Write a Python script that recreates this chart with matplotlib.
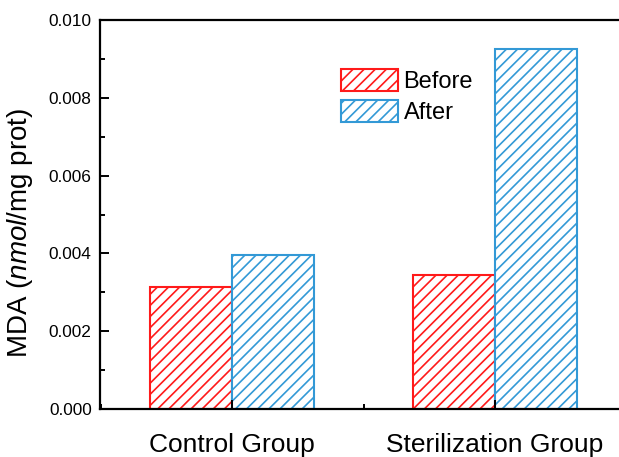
import matplotlib
matplotlib.use('Agg')
import matplotlib.pyplot as plt
from matplotlib.patches import Patch
from matplotlib.ticker import MultipleLocator, FormatStrFormatter

groups = ['Control Group', 'Sterilization Group']
before = [0.00314, 0.00345]
after = [0.00397, 0.00925]

C_BEFORE, C_AFTER = '#FF1A1A', '#3399D6'

plt.rcParams.update({
    'font.family': 'Liberation Sans',
    'mathtext.fontset': 'custom',
    'mathtext.rm': 'Liberation Sans',
    'mathtext.it': 'Liberation Sans:italic',
    'hatch.linewidth': 1.2,
})

fig = plt.figure(figsize=(6.19, 4.57), dpi=100)
ax = fig.add_axes([100 / 619, 48 / 457, 519 / 619, 389 / 457])

xs = [1, 2]
w = 0.312
ax.bar([x - w / 2 for x in xs], before, width=w, facecolor='white',
       edgecolor=C_BEFORE, hatch='///', linewidth=1.5)
ax.bar([x + w / 2 for x in xs], after, width=w, facecolor='white',
       edgecolor=C_AFTER, hatch='///', linewidth=1.5)

ax.set_xlim(0.498, 2.471)
ax.set_ylim(0, 0.010)
ax.set_xticks(xs)
ax.set_xticklabels(groups, fontsize=19)
ax.xaxis.set_minor_locator(MultipleLocator(0.5))
ax.yaxis.set_major_locator(MultipleLocator(0.002))
ax.yaxis.set_minor_locator(MultipleLocator(0.001))
ax.yaxis.set_major_formatter(FormatStrFormatter('%.3f'))
ax.tick_params(axis='y', labelsize=12.4, pad=6)
ax.tick_params(axis='x', pad=17)
ax.tick_params(which='major', direction='in', length=6.5, width=1.4)
ax.tick_params(which='minor', direction='in', length=3.6, width=1.4)
ax.spines['right'].set_visible(False)
for s in ('left', 'top', 'bottom'):
    ax.spines[s].set_linewidth(1.6)

ax.set_ylabel(r'MDA ($\it{nmol}$/mg prot)', fontsize=20)
ax.yaxis.set_label_coords(-0.125, 0.452)

handles = [Patch(facecolor='white', edgecolor=C_BEFORE, hatch='///', linewidth=1.5, label='Before'),
           Patch(facecolor='white', edgecolor=C_AFTER, hatch='///', linewidth=1.5, label='After')]
ax.legend(handles=handles, fontsize=17, frameon=False, loc='upper left',
          bbox_to_anchor=(241 / 519, 1 - 49 / 389), handlelength=2.4,
          handleheight=1.05, handletextpad=0.25, labelspacing=0.3,
          borderaxespad=0, borderpad=0)

fig.savefig('out.png', dpi=100)
